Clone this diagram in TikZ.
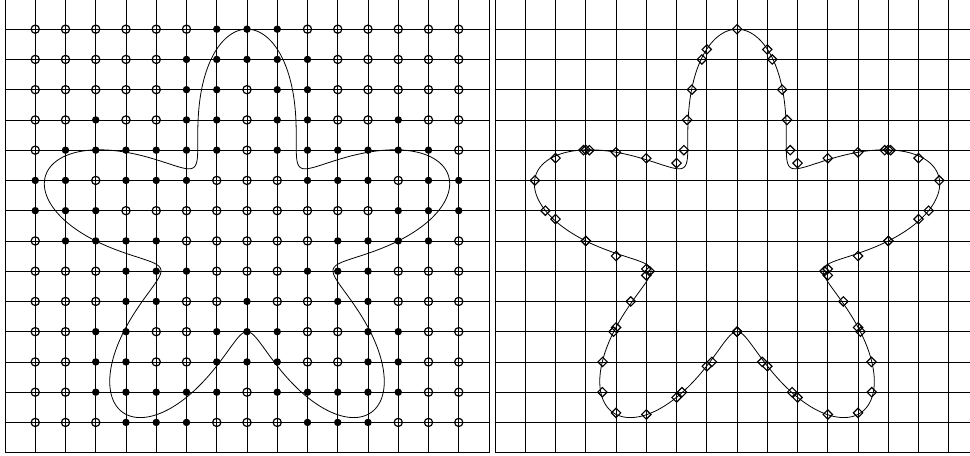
\documentclass[tikz,border=0pt]{standalone}
\usetikzlibrary{shapes.geometric}
\begin{document}
\begin{tikzpicture}[x=0.8cm,y=0.8cm,
  gridline/.style={line width=0.6pt},
  curveline/.style={line width=0.6pt},
  dotopen/.style={circle,draw,line width=0.9pt,inner sep=0pt,minimum size=6.2pt},
  dotfill/.style={circle,fill,inner sep=0pt,minimum size=5.6pt},
  dia/.style={diamond,draw,line width=0.85pt,inner sep=0pt,minimum size=7.4pt},
  declare function={lsf(\x,\y)=veclen(\x-8,\y-7)-5-2*sin(5*atan2(\y-7,\x-8));}
]
\useasboundingbox (-0.1653,-0.0991) rectangle (31.901,14.965);

% ---------------- left panel ----------------
\foreach \i in {1,...,15} \draw[gridline] (\i,0) -- (\i,15);
\foreach \j in {1,...,14} \draw[gridline] (0,\j) -- (16,\j);
\draw[gridline] (0,15) -- (0,0) -- (16,0) -- (16,15);

\foreach \i in {1,...,15}{
  \foreach \j in {1,...,14}{
    \pgfmathtruncatemacro\n{(lsf(\i,\j)<-0.005)+(lsf(\i+1,\j)<-0.005)+(lsf(\i-1,\j)<-0.005)+(lsf(\i,\j+1)<-0.005)+(lsf(\i,\j-1)<-0.005)}
    \ifnum\n>0
      \ifnum\n<5
        \node[dotfill] (p\i-\j) at (\i,\j) {};
      \else
        \node[dotopen] (p\i-\j) at (\i,\j) {};
      \fi
    \else
      \node[dotopen] (p\i-\j) at (\i,\j) {};
    \fi
  }
}

\draw[curveline] plot[domain=0:360,samples=721]
  ({8+(5+2*sin(5*\x))*cos(\x)},{7+(5+2*sin(5*\x))*sin(\x)}) -- cycle;

% ---------------- right panel ----------------
\begin{scope}[shift={(16.2,0)}]
  \foreach \i in {1,...,15} \draw[gridline] (\i,0) -- (\i,15);
  \foreach \j in {1,...,14} \draw[gridline] (0,\j) -- (17,\j);
  \draw[gridline] (0,15) -- (0,0) -- (17,0);
  \draw[curveline] plot[domain=0:360,samples=721]
    ({8+(5+2*sin(5*\x))*cos(\x)},{7+(5+2*sin(5*\x))*sin(\x)}) -- cycle;
  % interface points on horizontal grid edges
  \foreach \j in {1,...,14}{
    \foreach \i in {0,...,15}{
      \pgfmathsetmacro\fa{lsf(\i,\j)}
      \pgfmathsetmacro\fb{lsf(\i+1,\j)}
      \pgfmathtruncatemacro\c{abs((\fa<-0.005)-(\fb<-0.005))}
      \ifnum\c=1
        \pgfmathsetmacro\tq{\fa/(\fa-\fb)}
        \node[dia] (dh\i-\j) at (\i+\tq,\j) {};
      \fi
    }
  }
  % interface points on vertical grid edges
  \foreach \i in {1,...,15}{
    \foreach \j in {0,...,14}{
      \pgfmathsetmacro\fa{lsf(\i,\j)}
      \pgfmathsetmacro\fb{lsf(\i,\j+1)}
      \pgfmathtruncatemacro\c{abs((\fa<-0.005)-(\fb<-0.005))}
      \ifnum\c=1
        \pgfmathsetmacro\tq{\fa/(\fa-\fb)}
        \node[dia] (dv\i-\j) at (\i,\j+\tq) {};
      \fi
    }
  }
\end{scope}
\end{tikzpicture}
\end{document}
